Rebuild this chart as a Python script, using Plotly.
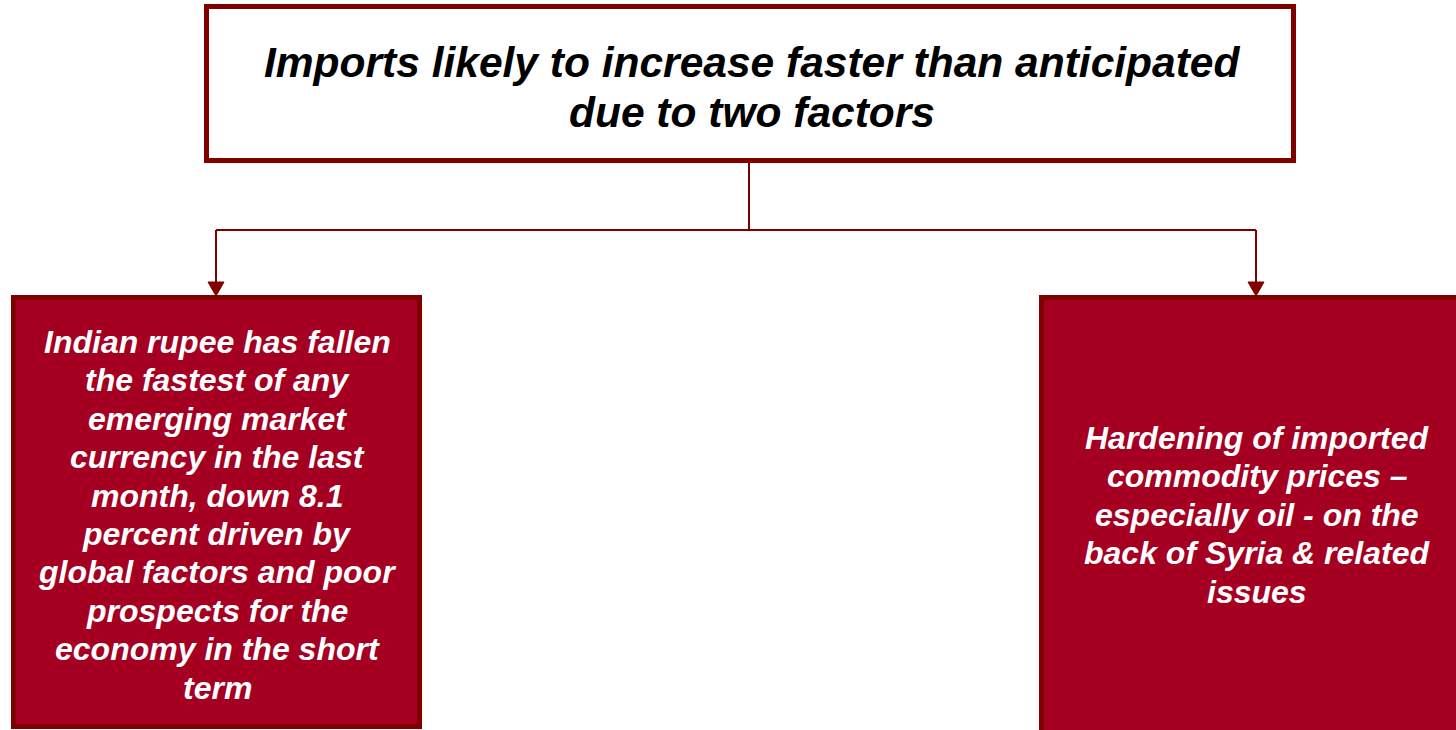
import plotly.graph_objects as go

# Diagram content
title_lines = ["Imports likely to increase faster than anticipated", "due to two factors"]
left_lines = [
    "Indian rupee has fallen",
    "the fastest of any",
    "emerging market",
    "currency in the last",
    "month, down 8.1",
    "percent driven by",
    "global factors and poor",
    "prospects for the",
    "economy in the short",
    "term",
]
right_lines = [
    "Hardening of imported",
    "commodity prices \u2013",
    "especially oil - on the",
    "back of Syria & related",
    "issues",
]

W, H = 1456, 730
DARK = "#800000"
FILL = "#A50021"
FONT = "Liberation Sans, Arial, sans-serif"

shapes = []
annotations = []

# Header box
shapes.append(dict(type="rect", x0=206.5, x1=1293.5, y0=6.5, y1=160.5,
                   line=dict(color=DARK, width=5), fillcolor="white", layer="below"))
# Factor boxes
shapes.append(dict(type="rect", x0=13.5, x1=419.5, y0=297.5, y1=726.5,
                   line=dict(color=DARK, width=5), fillcolor=FILL, layer="below"))
shapes.append(dict(type="rect", x0=1041.5, x1=1470, y0=297.5, y1=740,
                   line=dict(color=DARK, width=5), fillcolor=FILL, layer="below"))

# Connectors
conn = dict(color=DARK, width=2)
shapes.append(dict(type="line", x0=749, x1=749, y0=163, y1=230, line=conn))
shapes.append(dict(type="line", x0=216, x1=1256, y0=230, y1=230, line=conn))
for xc in (216, 1256):
    shapes.append(dict(type="line", x0=xc, x1=xc, y0=230, y1=284, line=conn))
    shapes.append(dict(type="path",
                       path=f"M {xc-8},282 L {xc+8},282 L {xc},296 Z",
                       fillcolor=DARK, line=dict(color=DARK, width=1)))


def add_lines(lines, xc, y_first, step, size, color):
    for i, t in enumerate(lines):
        annotations.append(dict(
            x=xc, y=y_first + i * step, xref="x", yref="y",
            text=f"<b><i>{t}</i></b>", showarrow=False,
            xanchor="center", yanchor="middle",
            font=dict(family=FONT, size=size, color=color)))


add_lines(title_lines, 752, 62, 50, 42.5, "black")
add_lines(left_lines, 217, 342, 38.4, 32, "white")
add_lines(right_lines, 1257, 438, 38.4, 32, "white")

fig = go.Figure()
fig.update_layout(
    width=W, height=H,
    margin=dict(l=0, r=0, t=0, b=0),
    paper_bgcolor="white", plot_bgcolor="white",
    xaxis=dict(range=[0, W], visible=False, fixedrange=True),
    yaxis=dict(range=[H, 0], visible=False, fixedrange=True),
    shapes=shapes, annotations=annotations, showlegend=False,
)
fig.write_html("out.html")
